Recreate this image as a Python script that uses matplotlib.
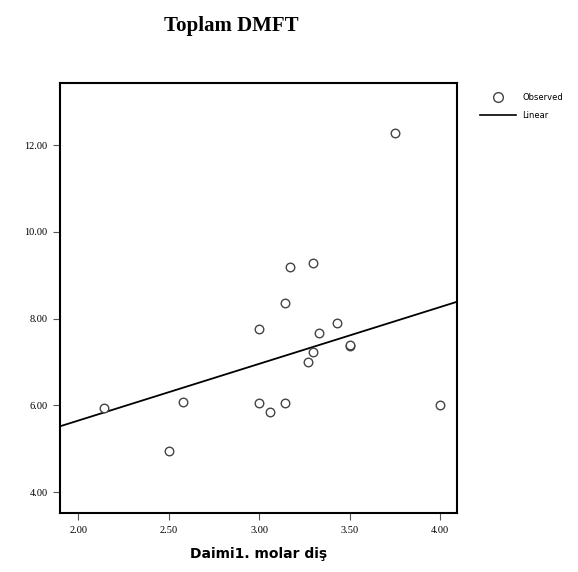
import numpy as np
import matplotlib
matplotlib.use("Agg")
import matplotlib.pyplot as plt
from matplotlib.lines import Line2D

molar = [3.17, 3.30, 3.14, 3.00, 3.43, 3.33, 3.50, 3.50, 3.30, 3.27,
         2.58, 2.14, 3.00, 3.14, 3.06, 4.00, 2.50, 3.75]
dmft = [9.20, 9.29, 8.37, 7.75, 7.89, 7.68, 7.36, 7.40, 7.22, 7.01,
        6.09, 5.95, 6.05, 6.05, 5.84, 6.02, 4.94, 12.28]

# linear fit line as drawn in the picture
fit_slope = 1.308
fit_intercept = 3.035

xticks = [2.0, 2.5, 3.0, 3.5, 4.0]
xticklabels = ["2.00", "2.50", "3.00", "3.50", "4.00"]
yticks = [4.0, 6.0, 8.0, 10.0, 12.0]
yticklabels = ["4.00", "6.00", "8.00", "10.00", "12.00"]

fig = plt.figure(figsize=(5.78, 5.72), dpi=100)
ax = fig.add_axes([0.104, 0.103, 0.687, 0.752])

ax.scatter(molar, dmft, s=38, facecolors='white', edgecolors='#444444',
           linewidths=1.0, zorder=3)

xl = np.array([1.9, 4.094])
ax.plot(xl, fit_intercept + fit_slope * xl, color='black', lw=1.3, zorder=2)

ax.set_xlim(1.9, 4.094)
ax.set_ylim(3.52, 13.43)
ax.set_xticks(xticks)
ax.set_xticklabels(xticklabels, fontsize=7.5, family='Liberation Serif')
ax.set_yticks(yticks)
ax.set_yticklabels(yticklabels, fontsize=7.5, family='Liberation Serif')
ax.tick_params(direction='out', length=5, width=0.8, color='#555555', pad=4)
for s in ax.spines.values():
    s.set_linewidth(1.5)

ax.set_xlabel("Daimi1. molar diş", fontsize=10, fontweight='bold',
              family='DejaVu Sans', labelpad=9)

fig.text(0.40, 0.955, "Toplam DMFT", ha='center', va='center',
         fontsize=15, fontweight='bold', family='Liberation Serif')

handles = [Line2D([], [], marker='o', ls='none', mfc='white', mec='#444444',
                  ms=7),
           Line2D([], [], color='black', lw=1.2)]
fig.legend(handles, ["Observed", "Linear"], loc='upper left',
           bbox_to_anchor=(0.830, 0.838), frameon=False, fontsize=6,
           handlelength=4.4, borderpad=0, borderaxespad=0, labelspacing=1.1,
           handletextpad=0.7)

fig.savefig("out.png", dpi=100)
